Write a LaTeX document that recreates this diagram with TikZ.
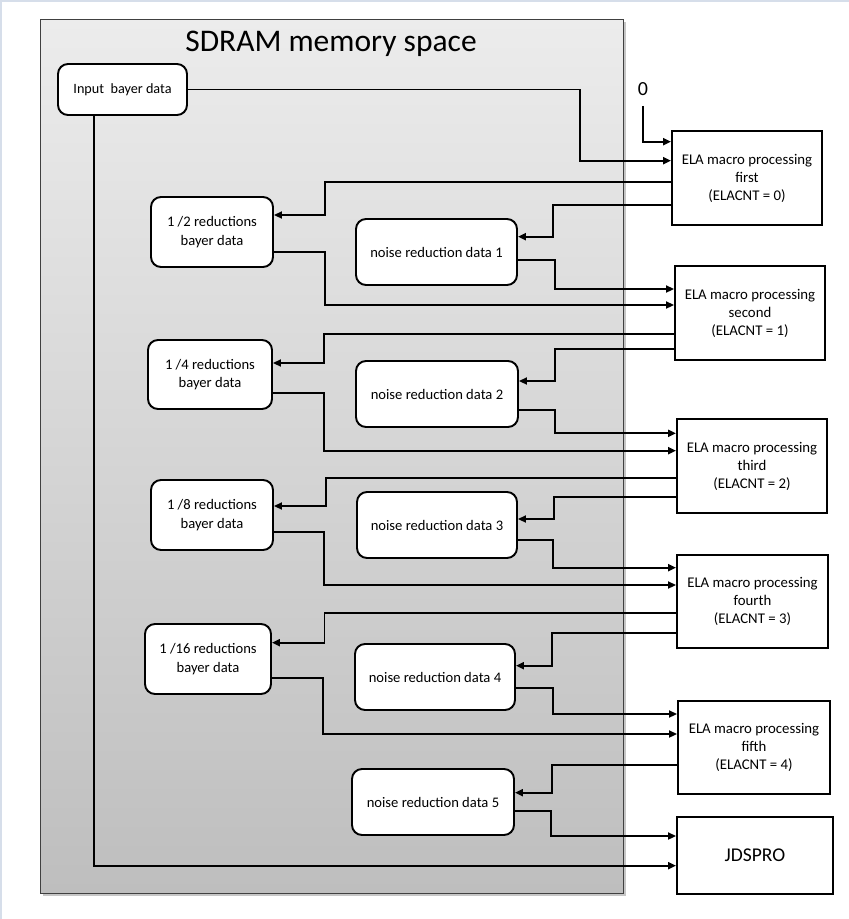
\documentclass[tikz,border=0pt]{standalone}
\usepackage{fontspec}
\setmainfont{Carlito}
\usetikzlibrary{arrows.meta,positioning}
\definecolor{framegray}{RGB}{64,64,64}
\definecolor{edgeblue}{RGB}{214,222,234}
\tikzset{
  wire/.style={line width=1.9pt,-{Triangle[length=8pt,width=7pt]}},
  databox/.style={draw,line width=1.9pt,rounded corners=10pt,fill=white,align=center,inner sep=0pt,
    font=\fontsize{14.6}{18.5}\selectfont},
  elabox/.style={draw,line width=1.9pt,fill=white,align=center,inner sep=0pt,
    minimum width=150pt,minimum height=94pt,font=\fontsize{14.8}{18}\selectfont},
}

\begin{document}
\begin{tikzpicture}[x=1pt,y=-1pt]
\useasboundingbox (0,0) rectangle (849,919);
\draw[edgeblue,line width=1.5pt] (0.75,919) -- (0.75,0.75) -- (849,0.75);

% SDRAM memory space
\fill[gray!45] (42.5,21.5) rectangle (625.5,895.5);
\shade[top color={rgb,255:red,236;green,236;blue,236},bottom color={rgb,255:red,190;green,190;blue,190},
  draw=framegray,line width=0.9pt] (40,19) rectangle (623,893);
\node[font=\fontsize{31.5}{33}\selectfont] (title) at (331,44) {SDRAM memory space};

% data in SDRAM
\node[databox,minimum width=129pt,minimum height=51pt,font=\fontsize{14.2}{16}\selectfont] (inp) at (122.5,89.5) {Input\ \ bayer data};
\node[databox,minimum width=122pt,minimum height=70pt] (half) at (212,232) {1 /2 reductions\\bayer data};
\node[databox,minimum width=124pt,minimum height=69pt] (quarter) at (210,374.5) {1 /4 reductions\\bayer data};
\node[databox,minimum width=122pt,minimum height=70pt] (eighth) at (212,515) {1 /8 reductions\\bayer data};
\node[databox,minimum width=126pt,minimum height=70pt] (sixteenth) at (208,659) {1 /16 reductions\\bayer data};

\node[databox,minimum width=161pt,minimum height=66pt] (nr1) at (436.5,252) {noise reduction data 1};
\node[databox,minimum width=162pt,minimum height=66pt] (nr2) at (437,394) {noise reduction data 2};
\node[databox,minimum width=160pt,minimum height=66pt] (nr3) at (437,525) {noise reduction data 3};
\node[databox,minimum width=160pt,minimum height=66pt] (nr4) at (435,677) {noise reduction data 4};
\node[databox,minimum width=162pt,minimum height=66pt] (nr5) at (433,802) {noise reduction data 5};

% ELA macro
\node[elabox] (ela1) at (747,178) {ELA macro processing\\first\\(ELACNT = 0)};
\node[elabox] (ela2) at (750,313) {ELA macro processing\\second\\(ELACNT = 1)};
\node[elabox] (ela3) at (752,466) {ELA macro processing\\third\\(ELACNT = 2)};
\node[elabox,minimum width=151pt,minimum height=93pt] (ela4) at (752.5,601.5) {ELA macro processing\\fourth\\(ELACNT = 3)};
\node[elabox,minimum width=152pt,minimum height=93pt] (ela5) at (754,747.5) {ELA macro processing\\fifth\\(ELACNT = 4)};
\node[elabox,minimum width=156pt,minimum height=77pt,font=\fontsize{19.5}{20}\selectfont] (jds) at (755,855.5) {JDSPRO};

\node[inner sep=0pt,font=\fontsize{20}{20}\selectfont] (zero) at (643,89) {0};

% connections
\draw[wire] ([yshift=-10pt]zero.south) |- (ela1.west |- 0,141.7);
\draw[wire] (inp.east) -| (580,160.7) -- (ela1.west |- 0,160.7);
\draw[wire] (inp.south -| 94,0) -- (94,865.7) -- (jds.west |- 0,865.7);

% first
\draw[wire] (ela1.west |- 0,182) -| (325,215) -- (half.east |- 0,215);
\draw[wire] (ela1.west |- 0,205) -| (553,236.7) -- (nr1.east |- 0,236.7);
\draw[wire] (half.east |- 0,251.7) -| (325,305) -- (ela2.west |- 0,305);
\draw[wire] (nr1.east |- 0,260) -| (555,289) -- (ela2.west |- 0,289);
% second
\draw[wire] (ela2.west |- 0,334) -| (324,363) -- (quarter.east |- 0,363);
\draw[wire] (ela2.west |- 0,349) -| (555,381) -- (nr2.east |- 0,381);
\draw[wire] (quarter.east |- 0,393) -| (324,450.7) -- (ela3.west |- 0,450.7);
\draw[wire] (nr2.east |- 0,410) -| (555,433.3) -- (ela3.west |- 0,433.3);
% third
\draw[wire] (ela3.west |- 0,477.7) -| (325.7,506) -- (eighth.east |- 0,506);
\draw[wire] (ela3.west |- 0,496.7) -| (554,519) -- (nr3.east |- 0,519);
\draw[wire] (eighth.east |- 0,531.7) -| (323.7,585) -- (ela4.west |- 0,585);
\draw[wire] (nr3.east |- 0,540) -| (553,567.7) -- (ela4.west |- 0,567.7);
% fourth
\draw[wire] (ela4.west |- 0,612.7) -| (324.5,642.7) -- (sixteenth.east |- 0,642.7);
\draw[wire] (ela4.west |- 0,633.3) -| (552,665.7) -- (nr4.east |- 0,665.7);
\draw[wire] (sixteenth.east |- 0,677.7) -| (322.7,734) -- (ela5.west |- 0,734);
\draw[wire] (nr4.east |- 0,687.7) -| (553,714) -- (ela5.west |- 0,714);
% fifth
\draw[wire] (ela5.west |- 0,765) -| (552,792.7) -- (nr5.east |- 0,792.7);
\draw[wire] (nr5.east |- 0,811) -| (551,836) -- (jds.west |- 0,836);

\end{tikzpicture}
\end{document}
